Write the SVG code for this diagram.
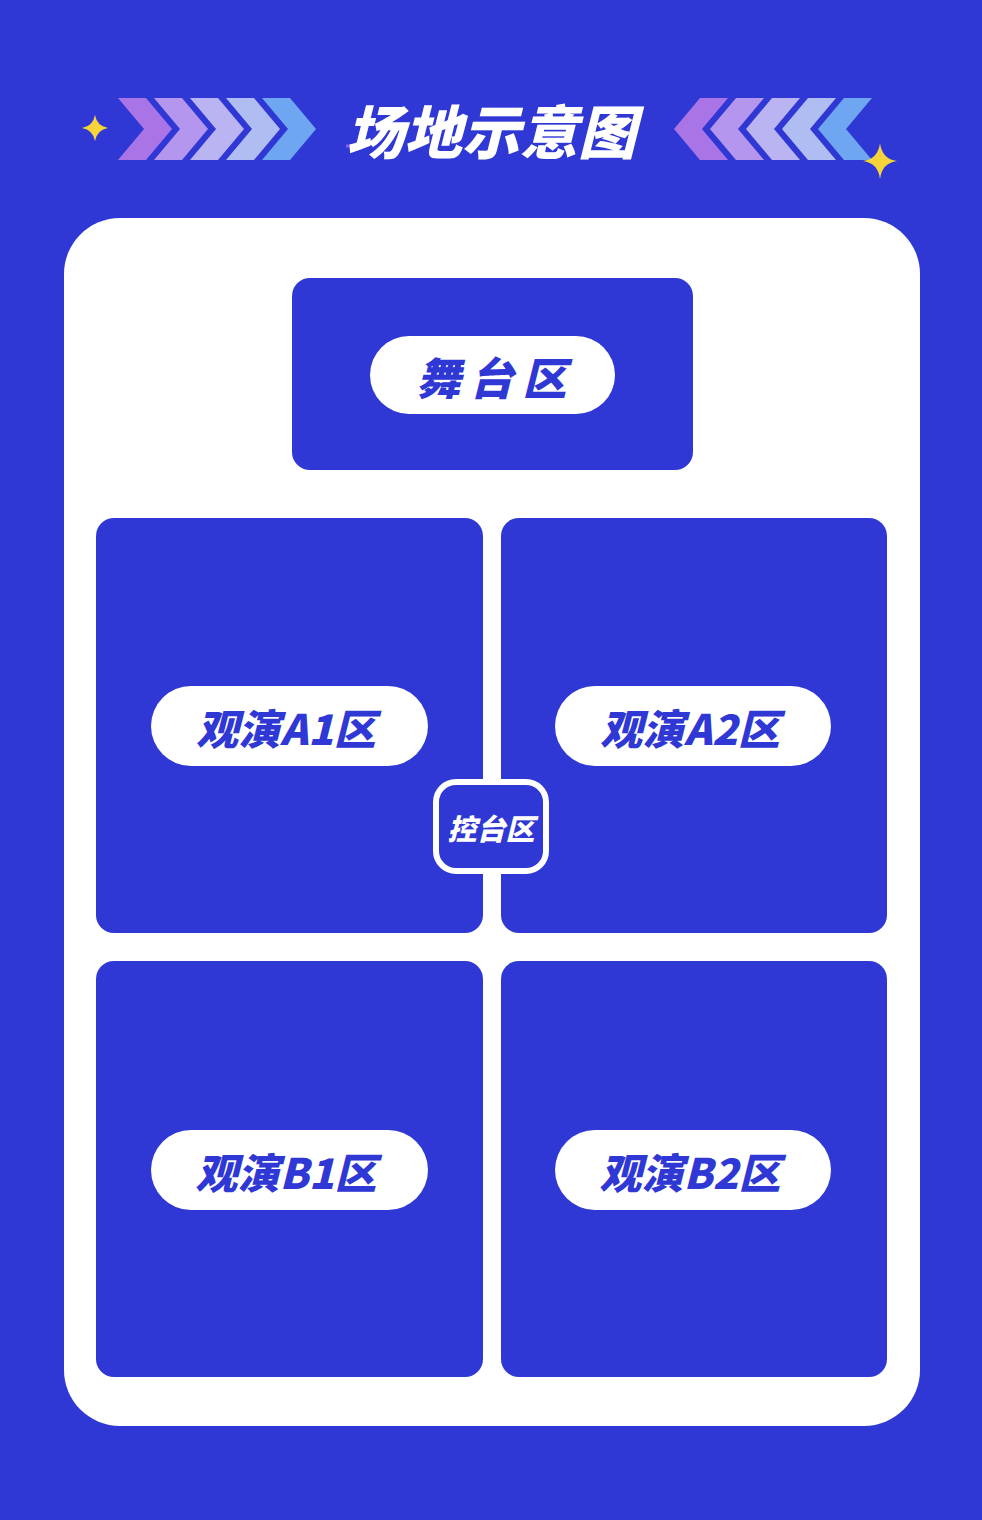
<svg xmlns="http://www.w3.org/2000/svg" width="982" height="1520" viewBox="0 0 982 1520">
  <defs>
    <style>
      .zone { fill: #2F38D4; }
      .pill { fill: #FFFFFF; }
      .lbl { font-family: "Noto Sans CJK SC", "Liberation Sans", sans-serif; font-weight: 900; font-style: italic; fill: #2F38D4; text-anchor: middle; dominant-baseline: central; }
      .star { fill: #F6D43A; }
    </style>
  </defs>
  <rect x="0" y="0" width="982" height="1520" fill="#2F38D4"/>

  <g id="header">
    <g id="chevrons-left">
      <polygon points="118,98 146,98 172,129 146,160 118,160 144,129" fill="#A874E6"/>
      <polygon points="154,98 182,98 208,129 182,160 154,160 180,129" fill="#B596EE"/>
      <polygon points="190,98 218,98 244,129 218,160 190,160 216,129" fill="#BBB4F2"/>
      <polygon points="226,98 254,98 280,129 254,160 226,160 252,129" fill="#AFBDF3"/>
      <polygon points="262,98 290,98 316,129 290,160 262,160 288,129" fill="#6FA6F2"/>
    </g>
    <g id="chevrons-right">
      <polygon points="674,129 700,98 728,98 702,129 728,160 700,160" fill="#A874E6"/>
      <polygon points="710,129 736,98 764,98 738,129 764,160 736,160" fill="#B596EE"/>
      <polygon points="746,129 772,98 800,98 774,129 800,160 772,160" fill="#BBB4F2"/>
      <polygon points="782,129 808,98 836,98 810,129 836,160 808,160" fill="#AFBDF3"/>
      <polygon points="818,129 844,98 872,98 846,129 872,160 844,160" fill="#6FA6F2"/>
    </g>
    <path class="star" d="M95,115 Q97,126 108,128 Q97,130 95,141 Q93,130 82,128 Q93,126 95,115 Z"/>
    <path class="star" d="M880,143 Q882,159 897,161 Q882,163 880,179 Q878,163 863,161 Q878,159 880,143 Z"/>
    <line x1="346" y1="146" x2="362" y2="146" stroke="#8A5CF0" stroke-width="3"/>
    <text x="491" y="129" font-family="Noto Sans CJK SC, Liberation Sans, sans-serif" font-weight="900" font-style="italic" font-size="58" fill="#FFFFFF" text-anchor="middle" dominant-baseline="central">场地示意图</text>
  </g>

  <rect id="panel" x="64" y="218" width="856" height="1208" rx="56" fill="#FFFFFF"/>

  <g id="stage">
    <rect class="zone" x="292" y="278" width="401" height="192" rx="18"/>
    <rect class="pill" x="370" y="336" width="245" height="78" rx="39"/>
    <text class="lbl" x="496" y="376" font-size="44" letter-spacing="9">舞台区</text>
  </g>

  <g id="zone-a1">
    <rect class="zone" x="96" y="518" width="387" height="415" rx="18"/>
    <rect class="pill" x="151" y="686" width="277" height="80" rx="40"/>
    <text class="lbl" x="286" y="726" font-size="42">观演A1区</text>
  </g>

  <g id="zone-a2">
    <rect class="zone" x="501" y="518" width="386" height="415" rx="18"/>
    <rect class="pill" x="555" y="686" width="276" height="80" rx="40"/>
    <text class="lbl" x="690" y="726" font-size="42">观演A2区</text>
  </g>

  <g id="zone-b1">
    <rect class="zone" x="96" y="961" width="387" height="416" rx="18"/>
    <rect class="pill" x="151" y="1130" width="277" height="80" rx="40"/>
    <text class="lbl" x="286" y="1170" font-size="42">观演B1区</text>
  </g>

  <g id="zone-b2">
    <rect class="zone" x="501" y="961" width="386" height="416" rx="18"/>
    <rect class="pill" x="555" y="1130" width="276" height="80" rx="40"/>
    <text class="lbl" x="690" y="1170" font-size="42">观演B2区</text>
  </g>

  <g id="control">
    <rect x="436" y="782" width="110" height="89" rx="20" fill="#2F38D4" stroke="#FFFFFF" stroke-width="6"/>
    <text x="491" y="827" font-family="Noto Sans CJK SC, Liberation Sans, sans-serif" font-weight="900" font-style="italic" font-size="29" fill="#FFFFFF" text-anchor="middle" dominant-baseline="central">控台区</text>
  </g>
</svg>
